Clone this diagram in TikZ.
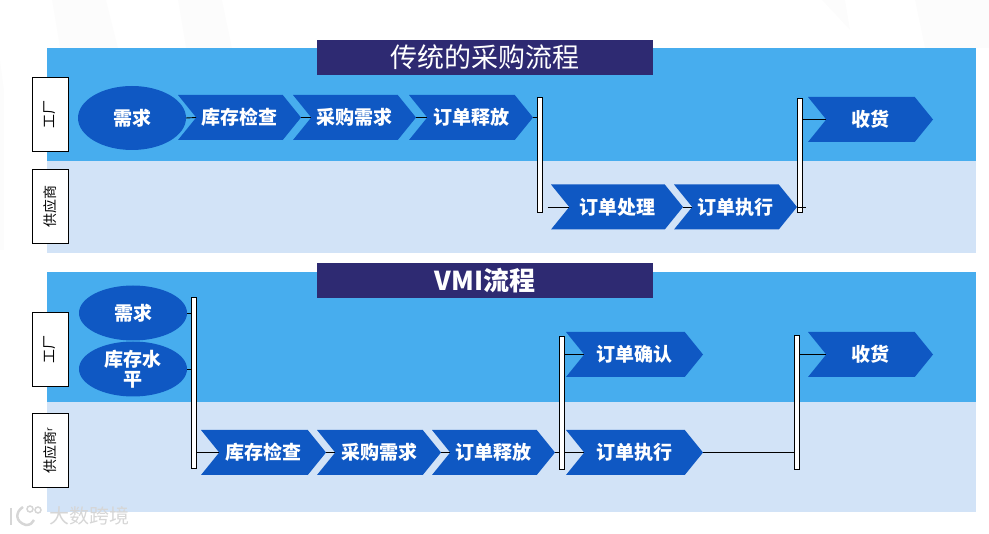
\documentclass[tikz,border=0pt]{standalone}
\usepackage{fontspec}
\setmainfont{Noto Sans CJK SC}
\usetikzlibrary{calc, shapes.symbols, shapes.geometric}
\definecolor{bandblue}{HTML}{47ADEE}
\definecolor{bandlight}{HTML}{D2E3F7}
\definecolor{chevblue}{HTML}{0F58C3}
\definecolor{titlenavy}{HTML}{2E2A72}
\definecolor{faintgrey}{HTML}{FCFCFC}
\definecolor{markgrey}{HTML}{D6D6D6}
\tikzset{
    chevron/.style={signal, signal to=east, signal from=west, signal pointer angle=102, fill=chevblue, text=white, font=\fontsize{19}{21}\selectfont\bfseries, minimum height=45, minimum width=#1, inner sep=0, outer sep=0},
    chevron/.default=124,
    oval/.style={ellipse, fill=chevblue, text=white, font=\fontsize{19}{22}\selectfont\bfseries, minimum width=108, minimum height=55, inner sep=0, outer sep=0, align=center},
    gate/.style={draw, fill=white, line width=1pt, minimum width=5, inner sep=0, outer sep=0},
    rolebox/.style={draw, fill=white, line width=1pt, minimum width=36, minimum height=74, inner sep=0, outer sep=0},
    roletext/.style={rotate=90, font=\fontsize{14}{16}\selectfont},
    titlebar/.style={fill=titlenavy, text=white, minimum width=336, minimum height=35, inner sep=0, outer sep=0},
    band/.style={minimum width=929, minimum height=#1, inner sep=0, outer sep=0},
    link/.style={line width=0.9pt, black},
}
\begin{document}
\begin{tikzpicture}[x=1pt,y=-1pt]
    \useasboundingbox (0,0) rectangle (989,534);

    % faint sheet marks
    \fill[faintgrey] (52,0) -- (106,0) -- (118,48) -- (60,48) -- cycle;
    \fill[faintgrey] (178,0) -- (222,0) -- (232,48) -- (186,48) -- cycle;
    \fill[faintgrey] (822,0) -- (845,0) -- (850,30) -- cycle;
    \fill[faintgrey] (915,0) -- (989,0) -- (989,48) -- (925,48) -- cycle;
    \fill[faintgrey] (0,60) -- (4,90) -- (4,250) -- (0,250) -- cycle;

    % traditional
    \node[band=113, fill=bandblue] (plantA) at (511.5,104.5) {};
    \node[band=92, fill=bandlight] (supplierA) at (511.5,207) {};
    \node[titlebar, font=\fontsize{27}{29}\selectfont] (titleA) at (485,57.5) {传统的采购流程};

    \node[rolebox] (roleplantA) at (50,114.5) {};
    \node[roletext] (plantnameA) at (roleplantA) {工厂};
    \node[rolebox] (rolesupplierA) at (50,206.5) {};
    \node[roletext] (suppliernameA) at (rolesupplierA) {供应商};

    \node[oval, minimum height=64] (demandA) at (132,118) {需求};
    \node[chevron=123] (stockA) at (239.5,117.5) {库存检查};
    \node[chevron=123] (requestA) at (354.5,117.5) {采购需求};
    \node[chevron=124] (releaseA) at (471,117.5) {订单释放};
    \node[gate, minimum height=115] (gateA) at (540,155.5) {};
    \node[chevron=132] (handleA) at (617,207) {订单处理};
    \node[chevron=123] (executeA) at (735.5,207) {订单执行};
    \node[gate, minimum height=114] (gateB) at (800,156) {};
    \node[chevron=125] (receiveA) at (870.5,119.5) {收货};

    \draw[link] (demandA.east) -- (stockA.west);
    \draw[link] (stockA.east) -- (requestA.west);
    \draw[link] (requestA.east) -- (releaseA.west);
    \draw[link] (releaseA.east) -- (releaseA.east -| gateA.west);
    \draw[link] ($(gateA.east |- handleA.west) + (5,0)$) -- (handleA.west);
    \draw[link] (handleA.east) -- (executeA.west);
    \draw[link] (executeA.east) -- ($(gateB.east |- executeA.east) + (3,0)$);
    \draw[link] (receiveA.west -| gateB.east) -- (receiveA.west);

    % vmi
    \node[band=130, fill=bandblue] (plantB) at (511.5,337) {};
    \node[band=110, fill=bandlight] (supplierB) at (511.5,457) {};
    \node[titlebar, font=\fontsize{26}{28}\selectfont\bfseries] (titleB) at (485,280.5) {VMI流程};

    \node[rolebox] (roleplantB) at (50,349.5) {};
    \node[roletext] (plantnameB) at (roleplantB) {工厂};
    \node[rolebox] (rolesupplierB) at (50,450.5) {};
    \node[roletext] (suppliernameB) at (rolesupplierB) {供应商\raisebox{0.4ex}{\fontsize{9}{9}\selectfont r}};

    \node[oval] (demandB) at (133,313) {需求};
    \node[oval] (levelB) at (133,369) {库存水\\[-2pt]平};
    \node[gate, minimum height=171] (gateC) at (194,383.5) {};
    \node[chevron=125] (stockB) at (263.5,452.5) {库存检查};
    \node[chevron=124] (requestB) at (379,452.5) {采购需求};
    \node[chevron=123] (releaseB) at (493.5,452.5) {订单释放};
    \node[gate, minimum height=133] (gateD) at (562,403.5) {};
    \node[chevron=137] (confirmB) at (634.5,354.5) {订单确认};
    \node[chevron=137] (executeB) at (634.5,452.5) {订单执行};
    \node[gate, minimum height=134] (gateE) at (796.5,403) {};
    \node[chevron=125] (receiveB) at (870.5,354.5) {收货};

    \draw[link] (demandB.east) -- (demandB.east -| gateC.west);
    \draw[link] (levelB.east) -- (levelB.east -| gateC.west);
    \draw[link] (stockB.west -| gateC.east) -- (stockB.west);
    \draw[link] (stockB.east) -- (requestB.west);
    \draw[link] (requestB.east) -- (releaseB.west);
    \draw[link] (releaseB.east) -- (releaseB.east -| gateD.west);
    \draw[link] (executeB.west -| gateD.east) -- (executeB.west);
    \draw[link] (confirmB.west -| gateD.east) -- (confirmB.west);
    \draw[link] (executeB.east) -- (executeB.east -| gateE.west);
    \draw[link] (receiveB.west -| gateE.east) -- (receiveB.west);

    % watermark
    \draw[markgrey, line width=2.5pt] (11,508) -- (11,525);
    \draw[markgrey, line width=2.5pt] (23,507) .. controls (15,512) and (15,522) .. (26,525) .. controls (30,525) and (33,523) .. (34,520);
    \draw[markgrey, line width=1.5pt] (30,509) circle (3);
    \draw[markgrey, line width=1.5pt] (38,510) circle (3);
    \node[text=markgrey, font=\fontsize{20}{22}\selectfont] (mark) at (89,516) {大数跨境};
\end{tikzpicture}
\end{document}
